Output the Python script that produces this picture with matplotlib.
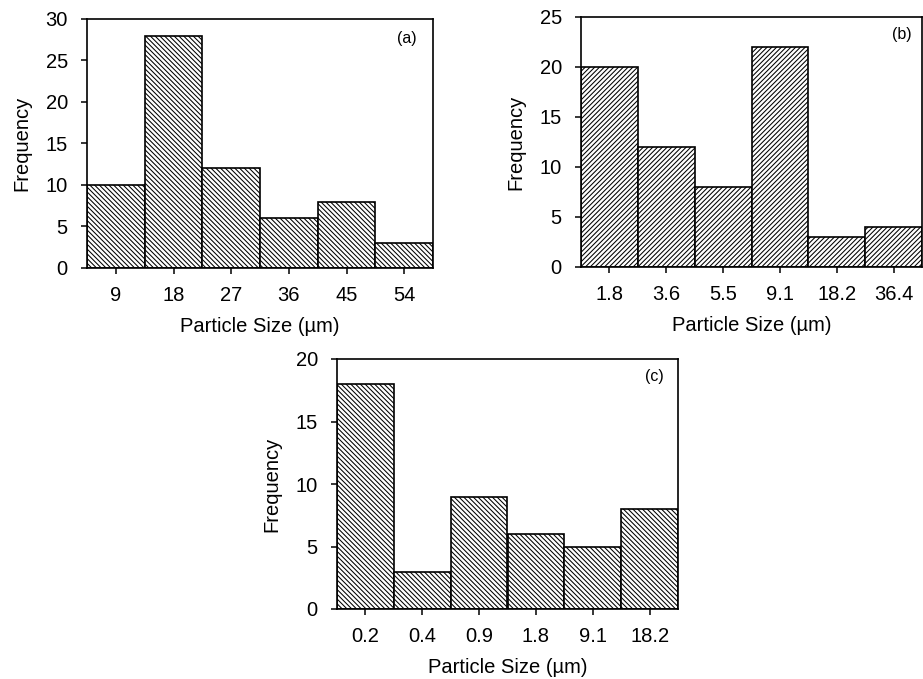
import matplotlib
matplotlib.use("Agg")
import matplotlib.pyplot as plt

plt.rcParams['font.family'] = ['Liberation Sans', 'DejaVu Sans']
plt.rcParams['hatch.linewidth'] = 0.75
plt.rcParams['hatch.color'] = '#1a1a1a'

labels_a = ["9", "18", "27", "36", "45", "54"]
freq_a = [10, 28, 12, 6, 8, 3]
labels_b = ["1.8", "3.6", "5.5", "9.1", "18.2", "36.4"]
freq_b = [20, 12, 8, 22, 3, 4]
labels_c = ["0.2", "0.4", "0.9", "1.8", "9.1", "18.2"]
freq_c = [18, 3, 9, 6, 5, 8]

BS = chr(92)
W, H = 923, 679
fig = plt.figure(figsize=(W / 100, H / 100), dpi=100)

def px_axes(left, top, right, bottom):
    return fig.add_axes([left / W, 1 - bottom / H, (right - left) / W, (bottom - top) / H])

def panel(ax, labels, freq, ymax, hatch, tag, tagpos):
    pos = list(range(1, len(labels) + 1))
    ax.bar(pos, freq, width=1.0, color='white', edgecolor='black',
           linewidth=1.2, hatch=hatch)
    ax.set_xlim(0.5, len(labels) + 0.5)
    ax.set_ylim(0, ymax)
    ax.set_yticks(range(0, ymax + 1, 5))
    ax.set_xticks(pos)
    ax.set_xticklabels(labels)
    ax.tick_params(axis='both', direction='out', length=4.3, width=1.1, labelsize=14.5)
    ax.tick_params(axis='x', pad=8.5)
    ax.tick_params(axis='y', pad=9.5)
    for s in ax.spines.values():
        s.set_linewidth(1.2)
    ax.set_xlabel("Particle Size (µm)", fontsize=14.5, labelpad=9)
    ax.set_ylabel("Frequency", fontsize=14.5, labelpad=10)
    ax.text(tagpos[0], tagpos[1], tag, transform=ax.transAxes, fontsize=11.5,
            ha='center', va='center')

ax_a = px_axes(87, 19, 433, 268)
panel(ax_a, labels_a, freq_a, 30, BS * 7, '(a)', (0.925, 0.92))
ax_b = px_axes(581, 17, 922, 267)
panel(ax_b, labels_b, freq_b, 25, '/' * 7, '(b)', (0.94, 0.93))
ax_c = px_axes(337, 359, 678, 609)
panel(ax_c, labels_c, freq_c, 20, BS * 7, '(c)', (0.93, 0.928))

fig.savefig("out.png", dpi=100)
